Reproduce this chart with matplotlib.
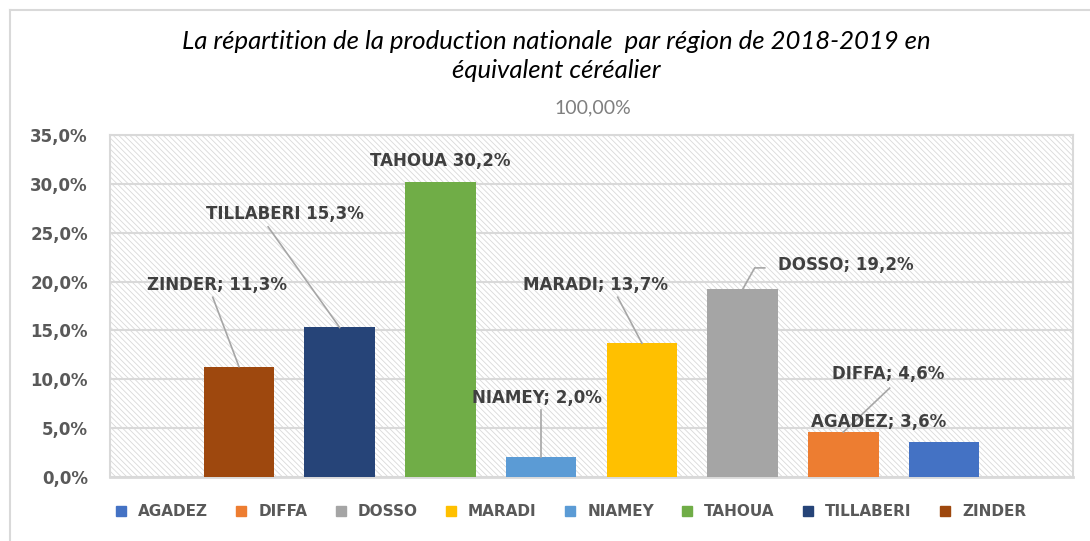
import numpy as np
import matplotlib.pyplot as plt
from matplotlib.patches import Rectangle
from matplotlib.lines import Line2D

# data (bar order as drawn, left to right)
regions = ['ZINDER', 'TILLABERI', 'TAHOUA', 'NIAMEY', 'MARADI', 'DOSSO', 'DIFFA', 'AGADEZ']
values = [11.3, 15.3, 30.2, 2.0, 13.7, 19.2, 4.6, 3.6]
labels = ['ZINDER; 11,3%', 'TILLABERI 15,3%', 'TAHOUA 30,2%', 'NIAMEY; 2,0%',
          'MARADI; 13,7%', 'DOSSO; 19,2%', 'DIFFA; 4,6%', 'AGADEZ; 3,6%']
colors = ['#9E480E', '#264478', '#70AD47', '#5B9BD5', '#FFC000', '#A5A5A5', '#ED7D31', '#4472C4']
legend_order = ['AGADEZ', 'DIFFA', 'DOSSO', 'MARADI', 'NIAMEY', 'TAHOUA', 'TILLABERI', 'ZINDER']
yticks = [0, 5, 10, 15, 20, 25, 30, 35]
category_label = '100,00%'
title = 'La répartition de la production nationale  par région de 2018-2019 en\néquivalent céréalier'

# label placement (data coords): text centre, and leader line end (None = no line)
label_pos = [(-0.22, 19.7), (0.46, 26.9), (2.0, 32.3), (2.96, 8.1),
             (3.54, 19.7), (6.02, 21.7), (6.45, 10.5), (6.35, 5.6)]
leader_end = [(-0.26, 18.4), (0.29, 25.6), None, (3.0, 6.9),
              (3.76, 18.4), (5.22, 21.4), (6.46, 9.1), None]

bold_font = 'DejaVu Sans'
plt.rcParams['font.family'] = ['Lato', 'DejaVu Sans']
plt.rcParams['hatch.color'] = '#d9d9d9'
plt.rcParams['hatch.linewidth'] = 0.6

fig = plt.figure(figsize=(10.9, 5.41), dpi=100)
ax = fig.add_axes([110 / 1090, 64 / 541, 963 / 1090, 342 / 541])

x = np.arange(len(regions))
ax.set_xlim(-1.28, len(regions) - 1 + 1.28)
ax.set_ylim(0, 35)

# hatched plot background
ax.add_patch(Rectangle((0, 0), 1, 1, transform=ax.transAxes, facecolor='white',
                       edgecolor='#d9d9d9', hatch='\\\\\\\\\\\\', lw=0, zorder=0))
ax.set_yticks(yticks)
ax.yaxis.grid(True, color='#d9d9d9', lw=1.5, zorder=1)
ax.set_axisbelow(True)
for s in ax.spines.values():
    s.set_color('#d9d9d9')
    s.set_linewidth(1.5)
ax.spines['bottom'].set_linewidth(2)

ax.bar(x, values, width=0.7, color=colors, zorder=3)

ax.set_yticklabels([('%.1f%%' % v).replace('.', ',') for v in yticks],
                   family=bold_font, fontweight='bold')
ax.tick_params(axis='y', length=0, pad=16, labelsize=12, labelcolor='#595959')
ax.set_xticks([])

for i in range(len(regions)):
    tx, ty = label_pos[i]
    ax.text(tx, ty, labels[i], ha='center', va='center', fontsize=12, family=bold_font,
            fontweight='bold', color='#404040', zorder=5)
    if leader_end[i] is not None:
        ex, ey = leader_end[i]
        if regions[i] == 'DOSSO':
            ax.plot([x[i], 5.12, ex], [values[i], ey, ey], color='#a6a6a6', lw=1.2, zorder=4)
        else:
            ax.plot([x[i], ex], [values[i], ey], color='#a6a6a6', lw=1.2, zorder=4)

# category label above plot
fig.text(593 / 1090, 1 - 108 / 541, category_label, ha='center', va='center',
         fontsize=14, color='#7f7f7f')
fig.text(556 / 1090, 1 - 56 / 541, title, ha='center', va='center', fontsize=18.5,
         style='italic', color='black', linespacing=1.3)

# legend
cmap = dict(zip(regions, colors))
handles = [Line2D([], [], marker='s', ls='', markersize=7.5, color=cmap[r]) for r in legend_order]
leg = fig.legend(handles, legend_order, loc='center', bbox_to_anchor=(566 / 1090, 1 - 512 / 541),
                 ncol=8, frameon=False, handletextpad=0.1, columnspacing=1.2,
                 prop={'family': bold_font, 'weight': 'bold', 'size': 11})
for t in leg.get_texts():
    t.set_color('#595959')

# outer chart border (top and left visible)
fig.add_artist(Line2D([10 / 1090, 10 / 1090], [0, 1 - 10 / 541], transform=fig.transFigure,
                      color='#d9d9d9', lw=1.5))
fig.add_artist(Line2D([10 / 1090, 1], [1 - 10 / 541, 1 - 10 / 541], transform=fig.transFigure,
                      color='#d9d9d9', lw=1.5))

fig.savefig('out.png', dpi=100)
